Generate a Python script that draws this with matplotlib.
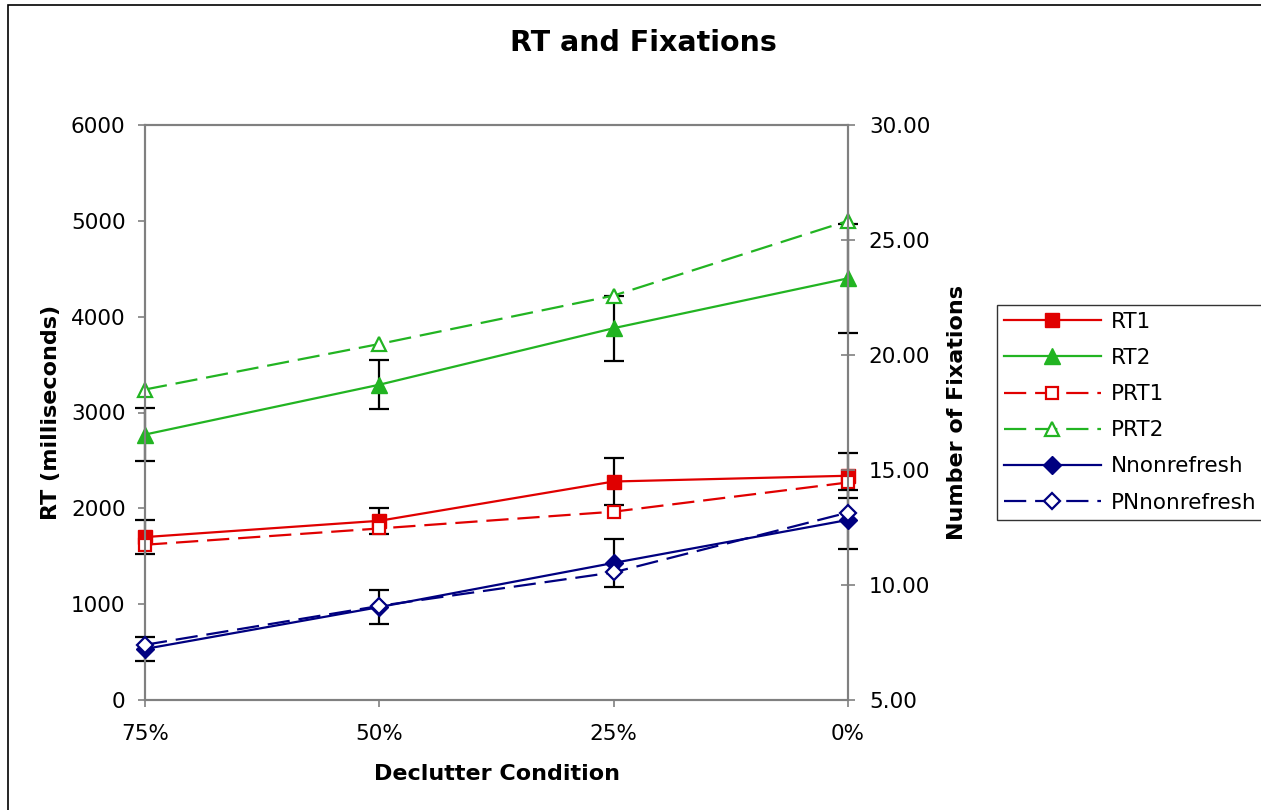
import matplotlib

matplotlib.use("Agg")
import matplotlib.pyplot as plt
from matplotlib.patches import Rectangle
from matplotlib.ticker import FormatStrFormatter

# declutter conditions on the x axis
conditions = ["75%", "50%", "25%", "0%"]

# response times (ms), left axis
rt1 = [1700, 1870, 2280, 2340]
rt1_err = [175, 135, 250, 235]
rt2 = [2770, 3290, 3880, 4400]
rt2_err = [280, 255, 340, 570]
prt1 = [1620, 1790, 1965, 2270]
prt2 = [3240, 3715, 4220, 5000]

# fixations, right axis
nnonrefresh = [7.22, 9.04, 10.96, 12.83]
nnonrefresh_err = [0.52, 0.74, 1.04, 1.28]
pnnonrefresh = [7.40, 9.09, 10.55, 13.15]

RED = "#e00000"
GREEN = "#22b422"
NAVY = "#000080"
AXGREY = "#808080"

W, H = 1261, 810
fig = plt.figure(figsize=(W / 100, H / 100), dpi=100)
fig.patch.set_facecolor("white")

# chart-area border (Excel style)
fig.patches.append(Rectangle((8 / W, -0.05), 1.2, 1 - 5 / H + 0.05, transform=fig.transFigure,
                             fill=False, edgecolor="black", linewidth=1.2))

ax = fig.add_axes([145 / W, 110 / H, 703 / W, 575 / H])
ax2 = ax.twinx()

x = list(range(len(conditions)))
lw = 1.6
dash = (10, 4)


def error_bars(axis, yvals, errs):
    eb = axis.errorbar(x, yvals, yerr=errs, fmt="none", ecolor="black", elinewidth=1.6,
                       capsize=7, capthick=1.6, zorder=2)
    for part in eb.lines:
        if part is None:
            continue
        items = part if isinstance(part, tuple) else (part,)
        for art in items:
            art.set_clip_on(False)


error_bars(ax, rt1, rt1_err)
error_bars(ax, rt2, rt2_err)
error_bars(ax2, nnonrefresh, nnonrefresh_err)

l_rt1, = ax.plot(x, rt1, color=RED, lw=lw, marker="s", ms=10, mfc=RED, mec=RED, label="RT1", zorder=3, clip_on=False)
l_rt2, = ax.plot(x, rt2, color=GREEN, lw=lw, marker="^", ms=11, mfc=GREEN, mec=GREEN, label="RT2", zorder=3, clip_on=False)
l_prt1, = ax.plot(x, prt1, color=RED, lw=lw, dashes=dash, marker="s", ms=9, mfc="white", mec=RED, mew=1.6,
                  label="PRT1", zorder=3, clip_on=False)
l_prt2, = ax.plot(x, prt2, color=GREEN, lw=lw, dashes=dash, marker="^", ms=10, mfc="white", mec=GREEN, mew=1.6,
                  label="PRT2", zorder=3, clip_on=False)
l_n, = ax2.plot(x, nnonrefresh, color=NAVY, lw=lw, marker="D", ms=9, mfc=NAVY, mec=NAVY, label="Nnonrefresh",
                zorder=3, clip_on=False)
l_pn, = ax2.plot(x, pnnonrefresh, color=NAVY, lw=lw, dashes=dash, marker="D", ms=8, mfc="white", mec=NAVY, mew=1.6,
                 label="PNnonrefresh", zorder=3, clip_on=False)

ax.set_xlim(0, 3)
ax.set_ylim(0, 6000)
ax.set_yticks(range(0, 6001, 1000))
ax.set_xticks(x)
ax.set_xticklabels(conditions)
ax2.set_ylim(5, 30)
ax2.set_yticks([5, 10, 15, 20, 25, 30])
ax2.yaxis.set_major_formatter(FormatStrFormatter("%.2f"))

for a in (ax, ax2):
    for s in a.spines.values():
        s.set_color(AXGREY)
        s.set_linewidth(1.5)
ax.tick_params(axis="y", direction="out", length=5, width=1.2, color=AXGREY, labelsize=15.5, pad=9)
ax.tick_params(axis="x", direction="out", length=5, width=1.2, color=AXGREY, labelsize=15.5, pad=12)
ax2.tick_params(axis="y", direction="inout", length=10, width=1.2, color=AXGREY, labelsize=15.5, pad=10)

ax.set_ylabel("RT (milliseconds)", fontsize=16, fontweight="bold", labelpad=7)
ax.set_xlabel("Declutter Condition", fontsize=16, fontweight="bold", labelpad=15)
ax2.set_ylabel("Number of Fixations", fontsize=16, fontweight="bold", labelpad=12)
fig.text(643 / W, 1 - 43 / H, "RT and Fixations", ha="center", va="center",
         fontsize=20.5, fontweight="bold")

handles = [l_rt1, l_rt2, l_prt1, l_prt2, l_n, l_pn]
leg = fig.legend(handles=handles, labels=[h.get_label() for h in handles], loc="upper left",
                 bbox_to_anchor=(997 / W, 1 - 305 / H), fontsize=15.5, frameon=True, fancybox=False,
                 handlelength=4.5, handletextpad=0.47, labelspacing=0.75, borderpad=0.32, borderaxespad=0)
leg.get_frame().set_edgecolor("black")
leg.get_frame().set_linewidth(1.0)

fig.savefig("out.png", dpi=100)
